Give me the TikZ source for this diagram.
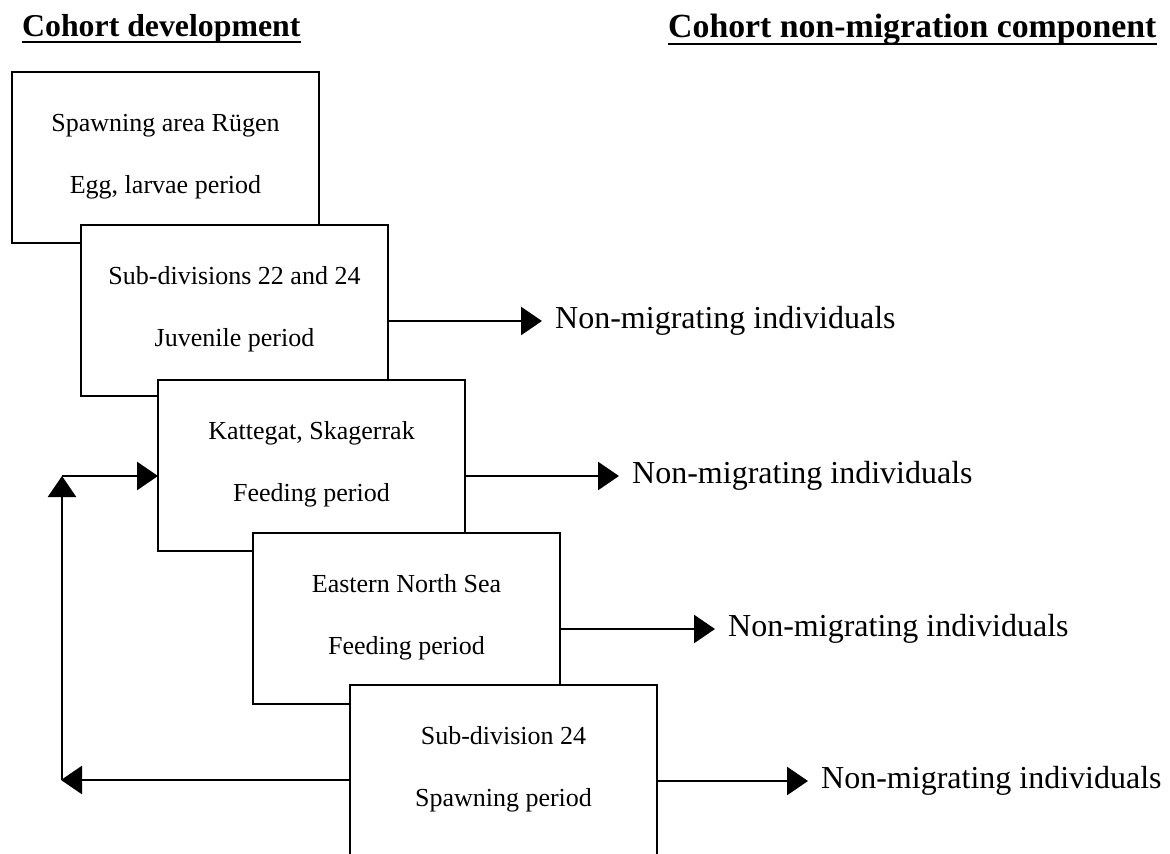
\documentclass[tikz,border=0pt]{standalone}
\usepackage{fontspec}
\setmainfont{Liberation Serif}
\usetikzlibrary{arrows.meta,calc}
\begin{document}
\begin{tikzpicture}[x=1pt,y=-1pt,
  stage/.style={draw,line width=2.6pt,fill=white,minimum width=307pt,minimum height=171pt,anchor=north west,inner sep=0pt,outer sep=0pt},
  boxtext/.style={font=\fontsize{26}{30}\selectfont,anchor=base,inner sep=0pt},
  nmlabel/.style={font=\fontsize{32}{36}\selectfont,anchor=west,inner sep=0pt},
  head/.style={font=\bfseries,anchor=base west,inner sep=0pt},
  uline/.style={line width=2.4pt},
  conn/.style={line width=2.6pt,-{Triangle[length=21pt,width=28pt]}},
  ]
\useasboundingbox (0,0) rectangle (1170,854);
\clip (0,0) rectangle (1170,854);
\fill[white] (0,0) rectangle (1170,854);

% headers
\node[head,font=\fontsize{31.8}{36}\selectfont\bfseries] (h1) at (22,36) {Cohort development};
\node[head,font=\fontsize{33.8}{38}\selectfont\bfseries] (h2) at (668,37) {Cohort non-migration component};
\draw[uline] ($(h1.base west)+(0,6)$) -- ($(h1.base east)+(0,6)$);
\draw[uline] ($(h2.base west)+(0,7)$) -- ($(h2.base east)+(0,7)$);

% boxes
\node[stage] (b1) at (12,72) {};
\node[boxtext] (t1a) at ($(b1.north)+(0,59)$) {Spawning area Rügen};
\node[boxtext] (t1b) at ($(b1.north)+(0,121)$) {Egg, larvae period};

\node[stage] (b2) at (81,225) {};
\node[boxtext] (t2a) at ($(b2.north)+(0,59)$) {Sub-divisions 22 and 24};
\node[boxtext] (t2b) at ($(b2.north)+(0,121)$) {Juvenile period};

\node[stage] (b3) at (158,380) {};
\node[boxtext] (t3a) at ($(b3.north)+(0,59)$) {Kattegat, Skagerrak};
\node[boxtext] (t3b) at ($(b3.north)+(0,121)$) {Feeding period};

\node[stage] (b4) at (253,533) {};
\node[boxtext] (t4a) at ($(b4.north)+(0,59)$) {Eastern North Sea};
\node[boxtext] (t4b) at ($(b4.north)+(0,121)$) {Feeding period};

\node[stage] (b5) at (350,685) {};
\node[boxtext] (t5a) at ($(b5.north)+(0,59)$) {Sub-division 24};
\node[boxtext] (t5b) at ($(b5.north)+(0,121)$) {Spawning period};

% non-migrating labels
\node[nmlabel] (n2) at (555,321) {Non-migrating individuals};
\node[nmlabel] (n3) at (632,476) {Non-migrating individuals};
\node[nmlabel] (n4) at (728,629) {Non-migrating individuals};
\node[nmlabel] (n5) at (821,781) {Non-migrating individuals};

\draw[conn,shorten >=13pt] (b2.east |- n2.west) -- (n2.west);
\draw[conn,shorten >=13pt] (b3.east |- n3.west) -- (n3.west);
\draw[conn,shorten >=13pt] (b4.east |- n4.west) -- (n4.west);
\draw[conn,shorten >=13pt] (b5.east |- n5.west) -- (n5.west);

% feedback loop
\coordinate (fb) at (61,780);
\coordinate (fc) at (62,780);
\coordinate (fu) at (62,476);
\draw[conn] (b5.west |- fb) -- (fb);
\draw[conn] (fc) -- (fu);
\draw[conn] (fu) -- (b3.west |- fu);
\end{tikzpicture}
\end{document}
